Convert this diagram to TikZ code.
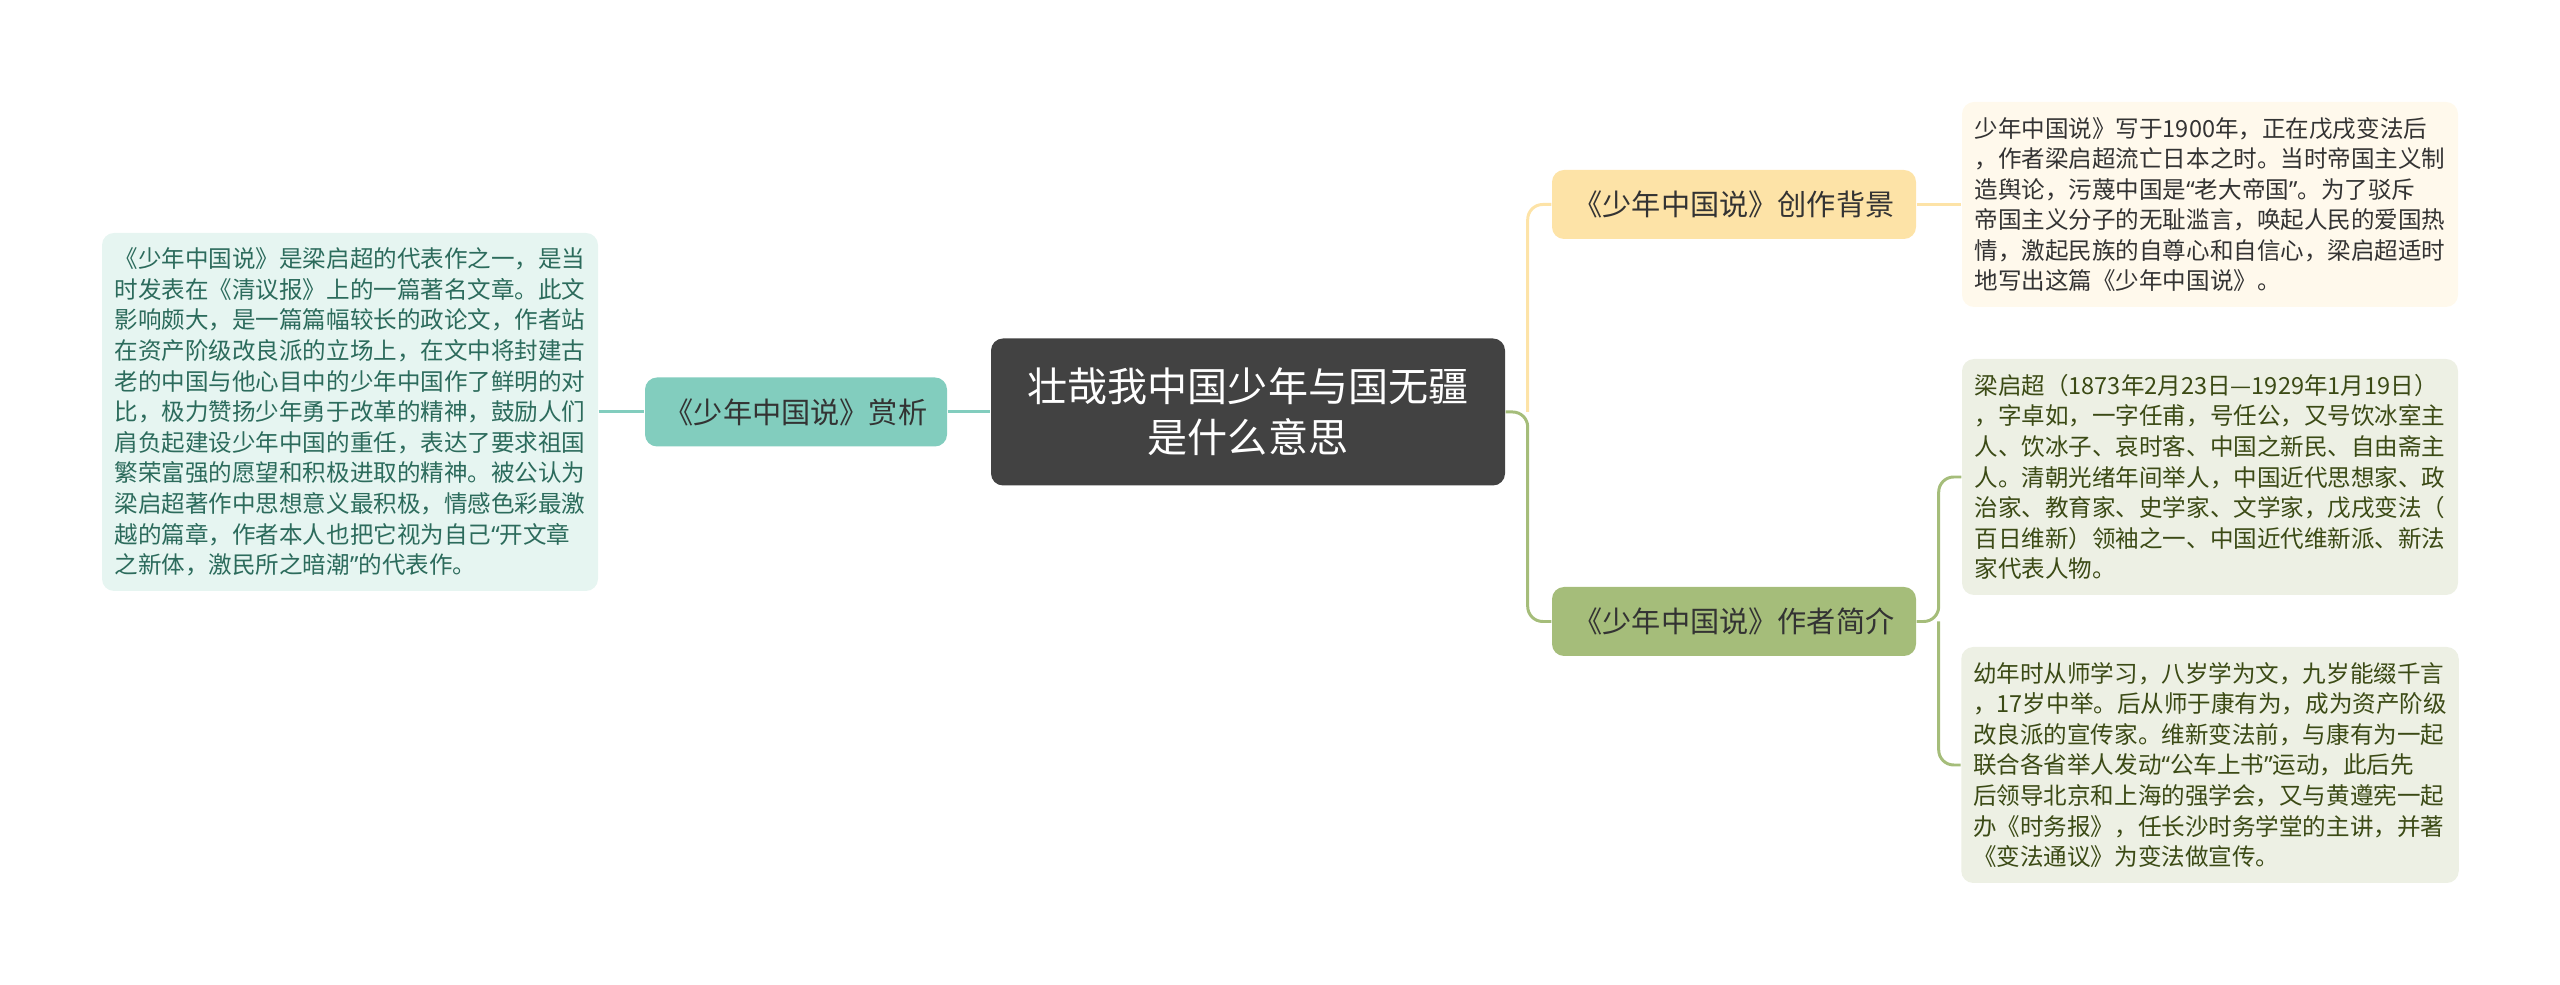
\documentclass[tikz,border=0pt]{standalone}
\usepackage{fontspec}
\setmainfont{Noto Sans CJK SC}
\newfontfamily\quotefont{Noto Sans}
\usepackage{xcolor}
\usepackage{tikz}
\usetikzlibrary{positioning, calc}

\definecolor{rootgray}{HTML}{424242}
\definecolor{tealbr}{HTML}{82CDBE}
\definecolor{tealbg}{HTML}{E6F5F1}
\definecolor{tealtx}{HTML}{2C6B5C}
\definecolor{ylwbr}{HTML}{FDE3A7}
\definecolor{ylwbg}{HTML}{FFF9EC}
\definecolor{grnbr}{HTML}{A5BD7A}
\definecolor{grnbg}{HTML}{EDF0E4}
\definecolor{grntx}{HTML}{3B4A15}

\newcommand{\qopen}{{\quotefont “}}
\newcommand{\qclose}{{\quotefont ”}}

\begin{document}
\begin{tikzpicture}[
    root/.style={fill=rootgray, rounded corners=1.2mm, minimum width=5.14cm, minimum height=1.47cm, align=center, text=white, font=\fontsize{11.4}{14.5}\selectfont},
    branch/.style={rounded corners=1.2mm, minimum height=0.69cm, align=center, text=black!80, font=\fontsize{8.3}{10}\selectfont},
    note/.style={rounded corners=1.2mm, minimum width=4.96cm, align=left, inner xsep=0.12cm, font=\fontsize{6.7}{8.7}\selectfont},
    link/.style={line width=0.85pt, rounded corners=1.5mm}
]
    \useasboundingbox (0,0) rectangle (25.6,-9.85);

    % Center
    \node[root] (root) at (12.48, -4.12) {壮哉我中国少年与国无疆\\是什么意思};

    % Left side
    \node[branch, fill=tealbr, minimum width=3.02cm] (appr) at (7.96, -4.12) {《少年中国说》赏析};
    \node[note, fill=tealbg, text=tealtx, minimum height=3.58cm] (apprtxt) at (3.50, -4.12) {《少年中国说》是梁启超的代表作之一，是当\\时发表在《清议报》上的一篇著名文章。此文\\影响颇大，是一篇篇幅较长的政论文，作者站\\在资产阶级改良派的立场上，在文中将封建古\\老的中国与他心目中的少年中国作了鲜明的对\\比，极力赞扬少年勇于改革的精神，鼓励人们\\肩负起建设少年中国的重任，表达了要求祖国\\繁荣富强的愿望和积极进取的精神。被公认为\\梁启超著作中思想意义最积极，情感色彩最激\\越的篇章，作者本人也把它视为自己\qopen 开文章\\之新体，激民所之暗潮\qclose 的代表作。};

    % Right side
    \node[branch, fill=ylwbr, minimum width=3.64cm] (bg) at (17.34, -2.045) {《少年中国说》创作背景};
    \node[branch, fill=grnbr, minimum width=3.64cm] (author) at (17.34, -6.215) {《少年中国说》作者简介};

    \node[note, fill=ylwbg, text=black!80, minimum height=2.05cm] (bgtxt) at (22.10, -2.045) {少年中国说》写于1900年，正在戊戌变法后\\，作者梁启超流亡日本之时。当时帝国主义制\\造舆论，污蔑中国是\qopen 老大帝国\qclose 。为了驳斥\\帝国主义分子的无耻滥言，唤起人民的爱国热\\情，激起民族的自尊心和自信心，梁启超适时\\地写出这篇《少年中国说》。};
    \node[note, fill=grnbg, text=grntx, minimum height=2.36cm] (bio) at (22.10, -4.77) {梁启超（1873年2月23日—1929年1月19日）\\，字卓如，一字任甫，号任公，又号饮冰室主\\人、饮冰子、哀时客、中国之新民、自由斋主\\人。清朝光绪年间举人，中国近代思想家、政\\治家、教育家、史学家、文学家，戊戌变法（\\百日维新）领袖之一、中国近代维新派、新法\\家代表人物。};
    \node[note, fill=grnbg, text=grntx, minimum height=2.36cm] (youth) at (22.10, -7.65) {幼年时从师学习，八岁学为文，九岁能缀千言\\，17岁中举。后从师于康有为，成为资产阶级\\改良派的宣传家。维新变法前，与康有为一起\\联合各省举人发动\qopen 公车上书\qclose 运动，此后先\\后领导北京和上海的强学会，又与黄遵宪一起\\办《时务报》，任长沙时务学堂的主讲，并著\\《变法通议》为变法做宣传。};

    % Links
    \coordinate (fork) at ($(root.east)+(0.22,0)$);
    \coordinate (afork) at ($(author.east)+(0.22,0)$);
    \draw[link, tealbr] (apprtxt) -- (appr);
    \draw[link, tealbr] (appr) -- (root);
    \draw[link, ylwbr] (fork) |- (bg.west);
    \draw[link, grnbr] (root.east) -- (fork) |- (author.west);
    \draw[link, ylwbr] (bg) -- (bgtxt);
    \draw[link, grnbr] (author.east) -- (afork) |- (bio.west);
    \draw[link, grnbr] (afork) |- (youth.west);
\end{tikzpicture}
\end{document}
